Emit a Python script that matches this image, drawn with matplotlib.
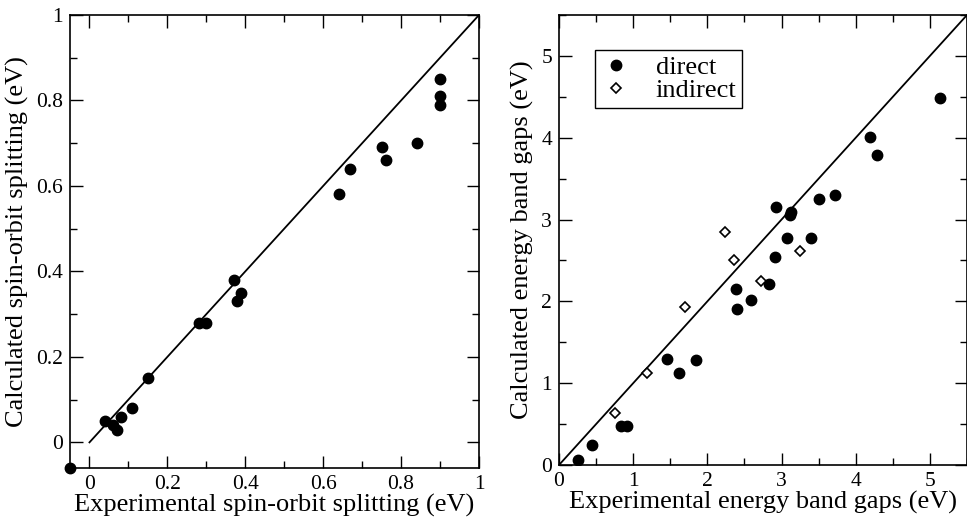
import numpy as np
import matplotlib
matplotlib.use('Agg')
import matplotlib.pyplot as plt
from matplotlib.ticker import MultipleLocator

plt.rcParams['font.family'] = ['Liberation Serif', 'DejaVu Serif']

# Left panel: spin-orbit splitting (eV)
so_exp = [-0.05, 0.04, 0.06, 0.07, 0.08, 0.11, 0.15, 0.28, 0.30, 0.37,
          0.38, 0.39, 0.64, 0.67, 0.75, 0.76, 0.84, 0.90, 0.90, 0.90]
so_calc = [-0.06, 0.05, 0.04, 0.03, 0.06, 0.08, 0.15, 0.28, 0.28, 0.38,
           0.33, 0.35, 0.58, 0.64, 0.69, 0.66, 0.70, 0.85, 0.81, 0.79]

# Right panel: band gaps (eV)
direct_exp = [0.26, 0.44, 0.83, 0.92, 1.45, 1.62, 1.85, 2.39, 2.40, 2.59, 2.83,
              2.91, 2.92, 3.07, 3.12, 3.13, 3.40, 3.50, 3.72, 4.19, 4.29, 5.14]
direct_calc = [0.06, 0.24, 0.48, 0.48, 1.29, 1.13, 1.28, 2.15, 1.91, 2.02, 2.21,
               2.54, 3.15, 2.77, 3.05, 3.09, 2.77, 3.25, 3.30, 4.01, 3.79, 4.49]
indirect_exp = [0.75, 1.19, 1.70, 2.24, 2.36, 2.72, 3.25]
indirect_calc = [0.63, 1.13, 1.93, 2.85, 2.50, 2.25, 2.61]

fig = plt.figure(figsize=(9.67, 5.18), dpi=100)
ax1 = fig.add_axes([70 / 967, 1 - 468 / 518, 409 / 967, 453 / 518])
ax2 = fig.add_axes([559 / 967, 1 - 465 / 518, 408 / 967, 450 / 518])


def fmt_num(v, pos=None):
    return '%g' % round(v, 3)


def style_axis(ax, major, minor):
    ax.xaxis.set_major_locator(MultipleLocator(major))
    ax.xaxis.set_minor_locator(MultipleLocator(minor))
    ax.yaxis.set_major_locator(MultipleLocator(major))
    ax.yaxis.set_minor_locator(MultipleLocator(minor))
    ax.xaxis.set_major_formatter(plt.FuncFormatter(fmt_num))
    ax.yaxis.set_major_formatter(plt.FuncFormatter(fmt_num))
    ax.tick_params(which='both', direction='in', top=True, right=True,
                   labelsize=15.5, width=1.0)
    ax.tick_params(which='major', length=9, pad=5)
    ax.tick_params(which='minor', length=5)
    for s in ax.spines.values():
        s.set_linewidth(1.2)


# left
ax1.plot([0, 1], [0, 1], color='black', lw=1.3)
ax1.plot(so_exp, so_calc, 'o', color='black', ms=7.5, clip_on=False)
ax1.set_xlim(-0.05, 1.0)
ax1.set_ylim(-0.06, 1.0)
style_axis(ax1, 0.2, 0.1)
ax1.set_xlabel('Experimental spin-orbit splitting (eV)', fontsize=19, labelpad=0)
ax1.set_ylabel('Calculated spin-orbit splitting (eV)', fontsize=19, labelpad=5)

# right
ax2.plot([0, 5.5], [0, 5.5], color='black', lw=1.3)
ax2.plot(direct_exp, direct_calc, 'o', color='black', ms=7.5, label='direct')
ax2.plot(indirect_exp, indirect_calc, 'D', mfc='white', mec='black', mew=1.2,
         ms=5, label='indirect')
ax2.set_xlim(0, 5.5)
ax2.set_ylim(0, 5.5)
style_axis(ax2, 1, 0.5)
ax2.set_xlabel('Experimental energy band gaps (eV)', fontsize=19, labelpad=0)
ax2.set_ylabel('Calculated energy band gaps (eV)', fontsize=19, labelpad=5)
leg = ax2.legend(loc='upper left', bbox_to_anchor=(0.088, 0.922), fontsize=19,
                 fancybox=False, framealpha=1, edgecolor='black',
                 borderaxespad=0, handlelength=1.2, handletextpad=0.9,
                 borderpad=0.2, labelspacing=0.0)
leg.get_frame().set_linewidth(1.0)

fig.savefig('out.png', dpi=100)
